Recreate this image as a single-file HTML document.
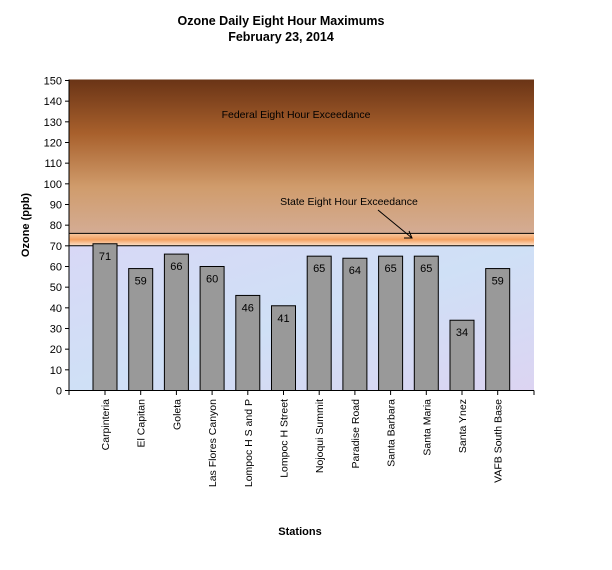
<!DOCTYPE html>
<html><head><style>
body{margin:0;background:#fff;width:612px;height:565px;overflow:hidden}
text{font-family:"Liberation Sans",Arial,sans-serif}
</style></head><body>
<svg width="612" height="565" xmlns="http://www.w3.org/2000/svg">
<defs>
<linearGradient id="br" x1="0" y1="0" x2="0" y2="1">
<stop offset="0" stop-color="#6a3416"/>
<stop offset="0.35" stop-color="#a8602c"/>
<stop offset="0.7" stop-color="#d09c6c"/>
<stop offset="1" stop-color="#d4ac94"/>
</linearGradient>
<linearGradient id="or" x1="0" y1="0" x2="0" y2="1">
<stop offset="0" stop-color="#f8c8a0"/>
<stop offset="0.5" stop-color="#f4a060"/>
<stop offset="1" stop-color="#fce4d0"/>
</linearGradient>
<linearGradient id="bl" x1="0" y1="0" x2="1" y2="1">
<stop offset="0" stop-color="#d8d8f6"/>
<stop offset="0.5" stop-color="#cfe0f6"/>
<stop offset="1" stop-color="#dcd4f2"/>
</linearGradient>
</defs>
<text x="281" y="25" font-size="12.5" font-weight="bold" text-anchor="middle">Ozone Daily Eight Hour Maximums</text>
<text x="281" y="41" font-size="12.5" font-weight="bold" text-anchor="middle">February 23, 2014</text>
<rect x="69" y="79.5" width="465" height="154" fill="url(#br)"/>
<rect x="69" y="233.4" width="465" height="12.4" fill="url(#or)"/>
<rect x="69" y="245.8" width="465" height="144.7" fill="url(#bl)"/>
<line x1="69" y1="233.4" x2="534" y2="233.4" stroke="#000"/>
<line x1="69" y1="245.8" x2="534" y2="245.8" stroke="#000"/>
<text x="296" y="118" font-size="10.5" text-anchor="middle">Federal Eight Hour Exceedance</text>
<text x="349" y="205" font-size="10.5" text-anchor="middle">State Eight Hour Exceedance</text>
<line x1="378" y1="210" x2="412" y2="238" stroke="#000"/>
<polyline points="404,238 412,238 409,231" fill="none" stroke="#000"/>
<g stroke="#000" stroke-width="1">
<line x1="69" y1="79.5" x2="69" y2="390.5"/>
<line x1="69" y1="390.5" x2="534" y2="390.5"/>
</g>
<g font-size="11" text-anchor="end" id="yt"></g>
<g id="bars"></g>
<text x="300" y="535" font-size="11" font-weight="bold" text-anchor="middle">Stations</text>
<text transform="translate(29,225) rotate(-90)" font-size="11" font-weight="bold" text-anchor="middle">Ozone (ppb)</text>
<script>
var ns="http://www.w3.org/2000/svg",yt=document.getElementById("yt"),g=document.getElementById("bars");
function el(t,a,p,tx){var e=document.createElementNS(ns,t);for(var k in a)e.setAttribute(k,a[k]);if(tx!==undefined)e.textContent=String(tx);p.appendChild(e);return e;}
for(var v=0;v<=150;v+=10){var y=390.5-v*2.0667;el("line",{x1:65,x2:69,y1:y,y2:y,stroke:"#000"},yt);el("text",{x:62,y:y+4},yt,v);}
var d=[["Carpinteria",71],["El Capitan",59],["Goleta",66],["Las Flores Canyon",60],["Lompoc H S and P",46],["Lompoc H Street",41],["Nojoqui Summit",65],["Paradise Road",64],["Santa Barbara",65],["Santa Maria",65],["Santa Ynez",34],["VAFB South Base",59]];
el("line",{x1:69,x2:69,y1:390.5,y2:395,stroke:"#000"},g);
el("line",{x1:534,x2:534,y1:390.5,y2:395,stroke:"#000"},g);
d.forEach(function(r,i){var c=105+35.7*i,h=r[1]*2.0667;
el("rect",{x:c-12,y:390.5-h,width:24,height:h,fill:"#999",stroke:"#000"},g);
el("text",{x:c,y:390.5-h+16,"font-size":11,"text-anchor":"middle"},g,r[1]);
el("line",{x1:c,x2:c,y1:390.5,y2:395,stroke:"#000"},g);
el("text",{transform:"translate("+(c+4)+",399) rotate(-90)","font-size":10.5,"text-anchor":"end"},g,r[0]);});
</script>
</svg>
</body></html>
